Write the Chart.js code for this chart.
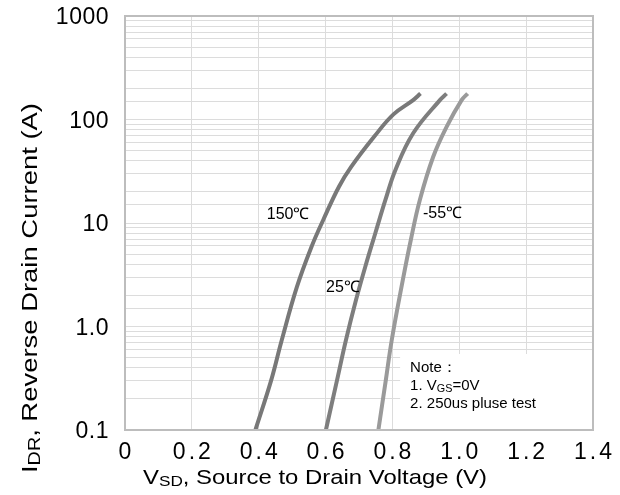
<!DOCTYPE html>
<html>
<head>
<meta charset="utf-8">
<script src="https://cdn.jsdelivr.net/npm/chart.js@4.4.1/dist/chart.umd.min.js"></script>
<style>
  html, body { margin: 0; padding: 0; background: #fff; }
  #wrap { width: 620px; height: 495px; }
</style>
</head>
<body>
<div id="wrap"><canvas id="chartVsd"></canvas></div>
<script>
// curves (V, A)
const v150 = [0.39, 0.437, 0.469, 0.514, 0.558, 0.593, 0.640, 0.677, 0.745, 0.803, 0.862, 0.884];
const i150 = [0.1, 0.3, 0.74, 2.4, 5.9, 10.7, 22.4, 35, 68, 112, 154, 178];
const v25 = [0.601, 0.634, 0.661, 0.691, 0.719, 0.749, 0.779, 0.809, 0.862, 0.942, 0.962];
const i25 = [0.1, 0.3, 0.74, 1.8, 3.8, 8, 16.7, 32.5, 73.6, 154, 178];
const vm55 = [0.758, 0.78, 0.798, 0.831, 0.855, 0.882, 0.922, 0.962, 1.007, 1.025];
const im55 = [0.1, 0.3, 0.74, 2.8, 6.85, 16.7, 43.7, 85, 154, 178];

const xTicks = [0, 0.2, 0.4, 0.6, 0.8, 1.0, 1.2, 1.4];
const yLabels = { 0.1: '0.1', 1: '1.0', 10: '10', 100: '100', 1000: '1000' };
const curveLabels = [
  { text: '150℃', v: 0.488, i: 12 },
  { text: '-55℃', v: 0.950, i: 12.2 },
  { text: '25℃', v: 0.652, i: 2.4 }
];
const noteLines = ['Note：', '1. V|GS|=0V', '2. 250us pluse test'];

const FONT = 'Liberation Sans, Arial, sans-serif';

function pares(vs, is) {
  return vs.map(function (v, k) { return { x: v, y: is[k] }; });
}

function textoSub(ctx, x, y, partes, size) {
  // partes alternam normal / subscrito
  let cx = x;
  partes.forEach(function (p, k) {
    if (!p) return;
    const sub = k % 2 === 1;
    ctx.font = (sub ? size * 0.72 : size) + 'px ' + FONT;
    ctx.fillText(p, cx, sub ? y + size * 0.2 : y);
    cx += ctx.measureText(p).width;
  });
  return cx - x;
}

function larguraSub(ctx, partes, size) {
  let w = 0;
  partes.forEach(function (p, k) {
    ctx.font = (k % 2 === 1 ? size * 0.72 : size) + 'px ' + FONT;
    w += ctx.measureText(p).width;
  });
  return w;
}

function tituloEsticado(ctx, partes, size, largura) {
  const w = larguraSub(ctx, partes, size);
  ctx.scale(largura / w, 1);
  textoSub(ctx, -w / 2, 0, partes, size);
}

const extras = {
  id: 'extras',
  afterDraw(chart) {
    const ctx = chart.ctx;
    const a = chart.chartArea;
    const xs = chart.scales.x;
    const ys = chart.scales.y;
    ctx.save();

    // note box
    const bx = xs.getPixelForValue(0.823);
    const by = a.bottom - 76;
    ctx.fillStyle = '#fff';
    ctx.fillRect(bx, by, a.right - bx, a.bottom - by);
    ctx.fillStyle = '#000';
    ctx.textBaseline = 'middle';
    ctx.textAlign = 'left';
    noteLines.forEach(function (l, k) {
      textoSub(ctx, bx + 10, by + 14 + k * 18, l.split('|'), 15);
    });

    // frame
    ctx.strokeStyle = '#bdbdbd';
    ctx.lineWidth = 2;
    ctx.strokeRect(a.left, a.top, a.right - a.left, a.bottom - a.top);

    // tick labels, placed by the scales
    ctx.fillStyle = '#000';
    ctx.font = '23px ' + FONT;
    ctx.textAlign = 'center';
    ctx.letterSpacing = '3px';
    xTicks.forEach(function (v) {
      const t = v === 0 ? '0' : v.toFixed(1);
      ctx.fillText(t, xs.getPixelForValue(v) + 1.5, 453);
    });
    ctx.textAlign = 'right';
    ctx.letterSpacing = '0.5px';
    ys.ticks.forEach(function (t) {
      const l = yLabels[t.value];
      if (l) ctx.fillText(l, 109, ys.getPixelForValue(t.value) + 2);
    });
    ctx.letterSpacing = '0px';

    // curve labels
    ctx.font = '16px ' + FONT;
    ctx.textAlign = 'center';
    curveLabels.forEach(function (c) {
      ctx.fillText(c.text, xs.getPixelForValue(c.v), ys.getPixelForValue(c.i));
    });

    // axis titles
    ctx.textAlign = 'left';
    ctx.save();
    ctx.translate(315, 478);
    tituloEsticado(ctx, ['V', 'SD', ', Source to Drain Voltage (V)'], 21, 344);
    ctx.restore();

    ctx.translate(31, 288);
    ctx.rotate(-Math.PI / 2);
    tituloEsticado(ctx, ['I', 'DR', ', Reverse Drain Current (A)'], 22, 370);
    ctx.restore();
  }
};

const grafico = new Chart(document.getElementById('chartVsd'), {
  type: 'line',
  data: {
    datasets: [
      { label: '150', data: pares(v150, i150), borderColor: '#787878' },
      { label: '25', data: pares(v25, i25), borderColor: '#7e7e7e' },
      { label: '-55', data: pares(vm55, im55), borderColor: '#9a9a9a' }
    ]
  },
  options: {
    responsive: true,
    maintainAspectRatio: false,
    animation: false,
    layout: { padding: { left: 0, top: 16, right: 27, bottom: 0 } },
    elements: {
      point: { radius: 0 },
      line: { borderWidth: 4, tension: 0.4, borderCapStyle: 'butt' }
    },
    plugins: { legend: { display: false }, tooltip: { enabled: false } },
    scales: {
      x: {
        type: 'linear',
        min: 0,
        max: 1.4,
        afterFit: function (s) { s.height = 65; },
        grid: { color: '#dcdcdc', drawTicks: false },
        border: { display: false },
        ticks: { stepSize: 0.2, display: false }
      },
      y: {
        type: 'logarithmic',
        min: 0.1,
        max: 1000,
        afterFit: function (s) { s.width = 125; },
        grid: { color: '#dcdcdc', drawTicks: false },
        border: { display: false },
        ticks: { autoSkip: false, display: false }
      }
    }
  },
  plugins: [extras]
});
</script>
</body>
</html>
